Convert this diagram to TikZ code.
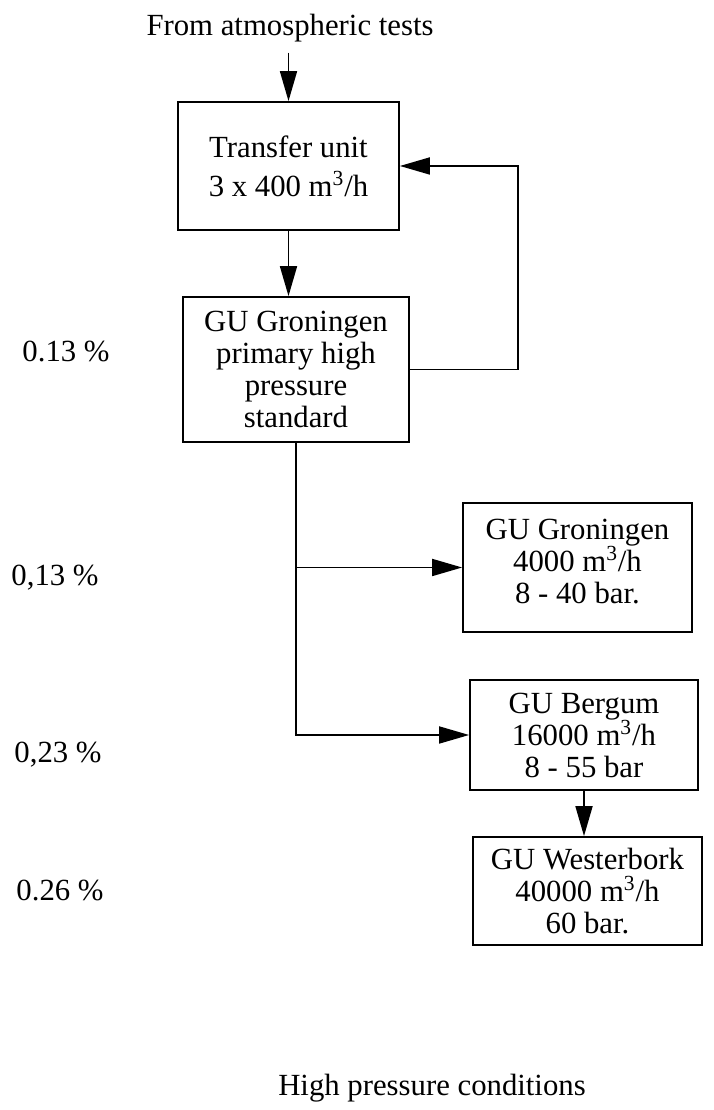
\documentclass[tikz,border=0pt]{standalone}
\usepackage{fontspec}
\setmainfont{Liberation Serif}
\usetikzlibrary{arrows.meta}

\begin{document}
\begin{tikzpicture}[
  line width=1pt,
  font=\fontsize{17.5}{18.2}\selectfont,
  unit/.style={draw, align=center, inner sep=0pt},
  flow/.style={-{Triangle[length=0.6cm, width=0.34cm]}},
]
\useasboundingbox (0,0) rectangle (14.26,22.2);

% 来源
\node (src) at (5.8,21.64) {From atmospheric tests};

% 标准装置
\node[unit, minimum width=4.42cm, minimum height=2.56cm] (tu) at (5.77,18.88)
  {Transfer unit\\[4pt]3 x 400 m\textsuperscript{3}/h};
\node[unit, minimum width=4.52cm, minimum height=2.9cm] (gp) at (5.92,14.81)
  {GU Groningen\\primary high\\pressure\\standard};

% 右侧各站
\node[unit, minimum width=4.58cm, minimum height=2.58cm] (gg) at (11.55,10.85)
  {GU Groningen\\4000 m\textsuperscript{3}/h\\8 - 40 bar.\\[-0.4cm]};
\node[unit, minimum width=4.56cm, minimum height=2.2cm] (gb) at (11.68,7.5)
  {GU Bergum\\16000 m\textsuperscript{3}/h\\8 - 55 bar};
\node[unit, minimum width=4.58cm, minimum height=2.16cm] (gw) at (11.75,4.38)
  {GU Westerbork\\40000 m\textsuperscript{3}/h\\60 bar.};

% 不确定度
\node (u1) at (1.32,15.16) {0.13 \%};
\node (u2) at (1.1,10.64) {0,13 \%};
\node (u3) at (1.16,7.1) {0,23 \%};
\node (u4) at (1.2,4.4) {0.26 \%};

% 标题
\node (cap) at (8.64,0.44) {High pressure conditions};

% 连线
\coordinate (ret) at (10.36,14.81);

\draw[flow] (tu.north |- src.south) ++(0,-0.08) -- (tu.north);
\draw[flow] (tu.south) -- (tu.south |- gp.north);
\draw[flow] (gp.east) -- (ret) |- (tu.east);
\draw[flow] (gp.south) |- (gb.west);
\draw[flow] (gp.south |- gg.west) -- (gg.west);
\draw[flow] (gb.south) -- (gb.south |- gw.north);

\end{tikzpicture}
\end{document}
